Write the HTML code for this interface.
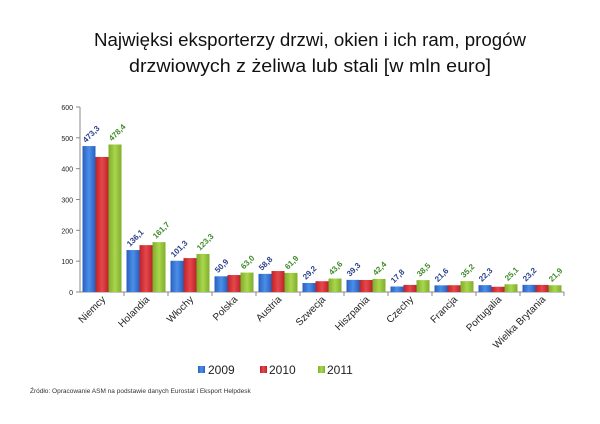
<!DOCTYPE html>
<html><head><meta charset="utf-8"><style>
body{margin:0;background:#fff;}
svg{display:block;font-family:"Liberation Sans",sans-serif;}
</style></head><body>
<svg id="chart" width="600" height="424" viewBox="0 0 600 424">
<defs>
<linearGradient id="gb" x1="0" x2="1"><stop offset="0" stop-color="#2a5fbf"/><stop offset="0.5" stop-color="#4a8fe8"/><stop offset="1" stop-color="#2a5fbf"/></linearGradient>
<linearGradient id="gr" x1="0" x2="1"><stop offset="0" stop-color="#b8242a"/><stop offset="0.5" stop-color="#e8484c"/><stop offset="1" stop-color="#b8242a"/></linearGradient>
<linearGradient id="gg" x1="0" x2="1"><stop offset="0" stop-color="#7fae2a"/><stop offset="0.5" stop-color="#a9d64e"/><stop offset="1" stop-color="#7fae2a"/></linearGradient>
</defs>
<text x="310" y="46" text-anchor="middle" font-size="18" textLength="432" lengthAdjust="spacingAndGlyphs" fill="#111">Najwięksi eksporterzy drzwi, okien i ich ram, progów</text>
<text x="310" y="72" text-anchor="middle" font-size="18" textLength="362" lengthAdjust="spacingAndGlyphs" fill="#111">drzwiowych z żeliwa lub stali [w mln euro]</text>
<g id="plot"></g>
<g font-size="12" fill="#222">
<rect x="198" y="366" width="7" height="7" fill="url(#gb)"/>
<text x="208" y="374">2009</text>
<rect x="260" y="366" width="7" height="7" fill="url(#gr)"/>
<text x="269" y="374">2010</text>
<rect x="318" y="366" width="7" height="7" fill="url(#gg)"/>
<text x="327" y="374">2011</text>
</g>
<text x="30" y="393" font-size="6.5" fill="#333">Źródło: Opracowanie ASM na podstawie danych Eurostat i Eksport Helpdesk</text>
</svg>
<script>
const categories=["Niemcy","Holandia","Włochy","Polska","Austria","Szwecja","Hiszpania","Czechy","Francja","Portugalia","Wielka Brytania"];
const values2009=[473.3,136.1,101.3,50.9,58.8,29.2,39.3,17.8,21.6,22.3,23.2];
const values2010=[438,152,110,55,68,35,39,23,22,17,23];
const values2011=[478.4,161.7,123.3,63.0,61.9,43.6,42.4,38.5,35.2,25.1,21.9];
const labels2009=["473,3","136,1","101,3","50,9","58,8","29,2","39,3","17,8","21,6","22,3","23,2"];
const labels2011=["478,4","161,7","123,3","63,0","61,9","43,6","42,4","38,5","35,2","25,1","21,9"];
const yTicks=[0,100,200,300,400,500,600];
const NS="http://www.w3.org/2000/svg";
const g=document.getElementById('plot');
const x0=80,x1=564,y0=292,yTop=107,ymax=600;
const bw=(x1-x0)/categories.length;
const ys=v=>y0-(v/ymax)*(y0-yTop);
function mk(t,a,p){const e=document.createElementNS(NS,t);for(const k in a)e.setAttribute(k,a[k]);(p||g).appendChild(e);return e;}
let ax=mk('line',{x1:x0,y1:yTop,x2:x0,y2:y0,stroke:'#888'});


let bx=mk('line',{x1:x0,y1:y0,x2:x1,y2:y0,stroke:'#888'});


yTicks.forEach(v=>{
  let t=mk('line',{x1:x0-4,y1:ys(v),x2:x0,y2:ys(v),stroke:'#888'});
  
  
  let l=mk('text',{x:x0-7,y:ys(v)+3,'text-anchor':'end','font-size':7,fill:'#222'});
  l.textContent=v;
  
  
});
const series=[[values2009,'url(#gb)','2009'],[values2010,'url(#gr)','2010'],[values2011,'url(#gg)','2011']];
categories.forEach((c,i)=>{
  const cx=x0+bw*i;
  let t=mk('line',{x1:cx+bw,y1:y0,x2:cx+bw,y2:y0+4,stroke:'#888'});
  
  
  const w=13,start=cx+2.5;
  series.forEach((s,j)=>{
    const v=s[0][i];
    let r=mk('rect',{x:start+j*w,y:ys(v),width:w,height:y0-ys(v),fill:s[1]});
    
    
  });
  [[values2009,labels2009,0,'#2b3f8a'],[values2011,labels2011,2,'#3f8a2b']].forEach(d=>{
    const bxp=start+d[2]*w+w/2-3, by=ys(d[0][i])-3;
    let l=mk('text',{x:bxp,y:by,transform:`rotate(-45 ${bxp} ${by})`,'font-size':8,'font-weight':'bold',fill:d[3]});
    l.textContent=d[1][i];
    
    
  });
  const lx=cx+bw/2+4,ly=y0+8;
  let cl=mk('text',{x:lx,y:ly,transform:`rotate(-45 ${lx} ${ly})`,'text-anchor':'end','font-size':10,fill:'#222'});
  cl.textContent=c;
  
  
});
</script>
</body></html>
